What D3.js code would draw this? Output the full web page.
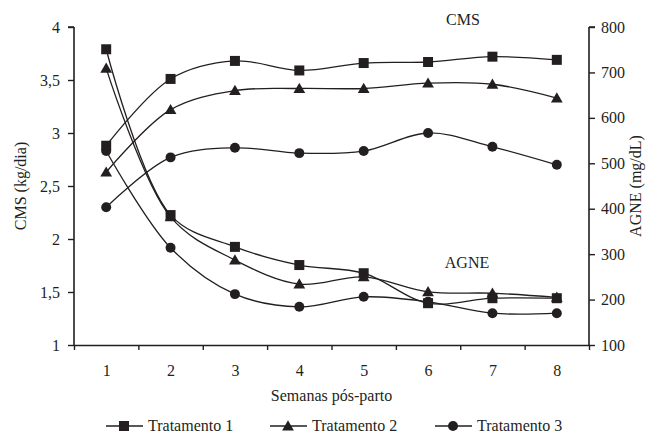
<!DOCTYPE html>
<html>
<head>
<meta charset="utf-8">
<script src="https://cdn.jsdelivr.net/npm/d3@7"></script>
<style>
  body { margin: 0; background: #fff; }
</style>
</head>
<body>
<div id="chart"></div>
<script>
// semanas pós-parto
const weeks = [1, 2, 3, 4, 5, 6, 7, 8];
const seriesNames = ['Tratamento 1', 'Tratamento 2', 'Tratamento 3'];
const markers = ['square', 'triangle', 'circle'];

// CMS (kg/dia), eixo esquerdo
const cms1 = [2.88, 3.51, 3.68, 3.59, 3.66, 3.67, 3.72, 3.69];
const cms2 = [2.63, 3.22, 3.40, 3.42, 3.42, 3.47, 3.46, 3.33];
const cms3 = [2.30, 2.77, 2.86, 2.81, 2.83, 3.00, 2.87, 2.70];

// AGNE (mg/dL), eixo direito
const agne1 = [751, 386, 316, 276, 258, 192, 203, 203];
const agne2 = [709, 382, 287, 234, 250, 217, 214, 205];
const agne3 = [527, 314, 212, 184, 206, 195, 170, 170];

const leftTicks = [1, 1.5, 2, 2.5, 3, 3.5, 4];
const rightTicks = [100, 200, 300, 400, 500, 600, 700, 800];

const width = 668, height = 433;
const m = { left: 74, right: 79, top: 27, bottom: 88 };
const ink = '#231f20';
const serif = '"Liberation Serif", "Times New Roman", serif';

const svg = d3.select('#chart').append('svg')
  .attr('width', width).attr('height', height)
  .attr('font-family', serif);

const x = d3.scaleLinear().domain([0.5, 8.5]).range([m.left, width - m.right]);
const yL = d3.scaleLinear().domain([1, 4]).range([height - m.bottom, m.top]);
const yR = d3.scaleLinear().domain([100, 800]).range([height - m.bottom, m.top]);

const fmt = d => String(d).replace('.', ',');

// axes
const gL = svg.append('g').attr('transform', `translate(${m.left},0)`)
  .call(d3.axisLeft(yL).tickValues(leftTicks).tickFormat(fmt).tickSize(6).tickPadding(8));
const gR = svg.append('g').attr('transform', `translate(${width - m.right},0)`)
  .call(d3.axisRight(yR).tickValues(rightTicks).tickSize(6).tickPadding(6));
const gX = svg.append('g').attr('transform', `translate(0,${height - m.bottom})`)
  .call(d3.axisBottom(x).tickValues(d3.range(0.5, 9, 1)).tickFormat('').tickSize(5).tickSizeOuter(0));
const gXl = svg.append('g').attr('transform', `translate(0,${height - m.bottom})`)
  .call(d3.axisBottom(x).tickValues(weeks).tickSize(0).tickPadding(20));
gXl.select('.domain').remove();

[gL, gR, gX, gXl].forEach(g => {
  g.attr('font-family', serif).attr('font-size', 16);
  g.selectAll('.domain').attr('stroke', ink).attr('stroke-width', 1.6);
  g.selectAll('.tick line').attr('stroke', ink).attr('stroke-width', 1.4);
  g.selectAll('.tick text').style('font-family', serif).style('font-size', '16px').attr('fill', ink);
});
gL.select('.domain').attr('d', `M0,${yL(4)}H-6M0,${yL(4)}V${yL(1)}`);
gR.select('.domain').attr('d', `M0,${yR(800)}H6M0,${yR(800)}V${yR(100)}`);

function label(sel) {
  return sel.attr('text-anchor', 'middle').attr('fill', ink)
    .style('font-family', serif).style('font-size', '16px');
}

// titles
label(svg.append('text').attr('transform', `translate(26,${(m.top + height - m.bottom) / 2}) rotate(-90)`))
  .text('CMS (kg/dia)');
label(svg.append('text').attr('transform', `translate(641,${(m.top + height - m.bottom) / 2}) rotate(-90)`))
  .text('AGNE (mg/dL)');
label(svg.append('text').attr('x', (m.left + width - m.right) / 2).attr('y', 401))
  .text('Semanas pós-parto');
label(svg.append('text').attr('x', 463).attr('y', 25)).text('CMS');
label(svg.append('text').attr('x', 467).attr('y', 268)).text('AGNE');

// series
const symbols = { square: d3.symbolSquare, triangle: d3.symbolTriangle, circle: d3.symbolCircle };
const symSize = { square: 100, triangle: 60, circle: 78 };
const series = [
  { vals: cms1, y: yL, mk: 'square' }, { vals: cms2, y: yL, mk: 'triangle' }, { vals: cms3, y: yL, mk: 'circle' },
  { vals: agne1, y: yR, mk: 'square' }, { vals: agne2, y: yR, mk: 'triangle' }, { vals: agne3, y: yR, mk: 'circle' }
];

const plot = svg.append('g');
series.forEach(s => {
  const pts = weeks.map((w, i) => [x(w), s.y(s.vals[i])]);
  plot.append('path')
    .attr('d', d3.line().curve(d3.curveCatmullRom.alpha(0.5))(pts))
    .attr('fill', 'none').attr('stroke', ink).attr('stroke-width', 1.3);
  plot.selectAll(null).data(pts).enter().append('path')
    .attr('transform', d => `translate(${d[0]},${d[1] + (s.mk === 'triangle' ? 1 : 0)})`)
    .attr('d', d3.symbol().type(symbols[s.mk]).size(symSize[s.mk]))
    .attr('fill', ink);
});

// legend
const legX = [106, 270, 435];
const legY = 426;
const leg = svg.append('g').selectAll('g').data(seriesNames).enter().append('g')
  .attr('transform', (d, i) => `translate(${legX[i]},${legY})`);
leg.append('line').attr('x1', 0).attr('x2', 37).attr('stroke', ink).attr('stroke-width', 1.3);
leg.append('path').attr('transform', (d, i) => `translate(18,${i === 1 ? 1 : 0})`)
  .attr('d', (d, i) => d3.symbol().type(symbols[markers[i]]).size(symSize[markers[i]])())
  .attr('fill', ink);
leg.append('text').attr('x', 42).attr('y', 5).attr('fill', ink)
  .style('font-family', serif).style('font-size', '16px').text(d => d);
</script>
</body>
</html>
